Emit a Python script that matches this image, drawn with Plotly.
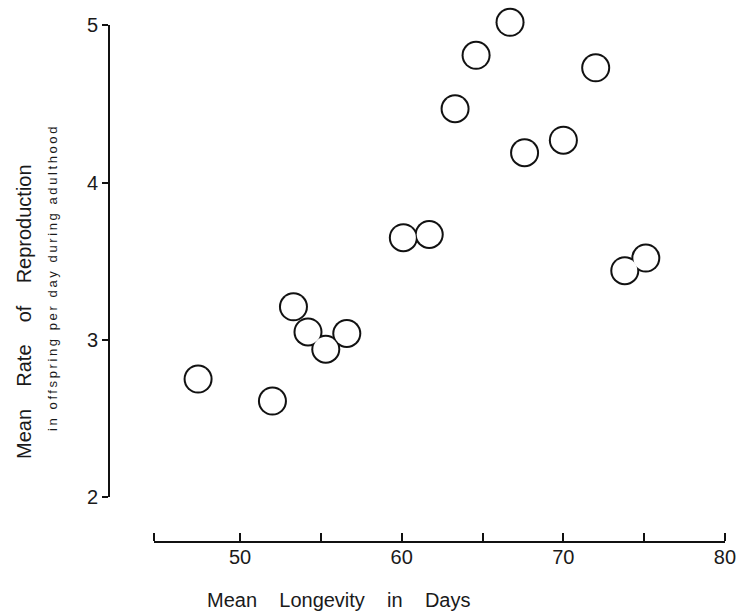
import plotly.graph_objects as go

# Data (mean longevity in days, mean rate of reproduction)
longevity = [47.4, 52.0, 53.3, 54.2, 55.3, 56.6, 60.1, 61.7, 63.3, 64.6, 66.7,
             67.6, 70.0, 72.0, 73.8, 75.1]
reproduction = [2.75, 2.61, 3.21, 3.05, 2.94, 3.04, 3.65, 3.67, 4.47, 4.81, 5.02,
                4.19, 4.27, 4.73, 3.44, 3.52]

x_range = [44.67, 80]
x_tickvals = [44.67, 50, 55, 60, 65, 70, 75, 80]
x_ticktext = ["", "50", "", "60", "", "70", "", "80"]
y_tickvals = [2, 3, 4, 5]
y_ticktext = ["2", "3", "4", "5"]

FONT = "Liberation Sans, Arial, Helvetica, sans-serif"
INK = "#111111"
NB = "\u00a0"

fig = go.Figure()
# outer black discs, then white discs on top -> merged open-circle outlines
fig.add_trace(go.Scatter(x=longevity, y=reproduction, mode="markers",
                         marker=dict(size=29, color=INK, line=dict(width=0)),
                         hoverinfo="skip", showlegend=False, cliponaxis=False))
fig.add_trace(go.Scatter(x=longevity, y=reproduction, mode="markers",
                         marker=dict(size=25, color="white", line=dict(width=0)),
                         showlegend=False, cliponaxis=False))
# transparent copy on the decorative axes so that plotly draws them
fig.add_trace(go.Scatter(x=longevity, y=reproduction, mode="markers",
                         xaxis="x2", yaxis="y2", marker=dict(opacity=0),
                         hoverinfo="skip", showlegend=False))

# plot area: paper from y=16px (top) to y=541px (x axis line)
y_lo, y_hi = 1.72, 5.06
d0 = (y_tickvals[0] - y_lo) / (y_hi - y_lo)
d1 = (y_tickvals[-1] - y_lo) / (y_hi - y_lo)

fig.update_layout(
    width=742, height=613,
    margin=dict(l=109, r=17, t=16, b=72, autoexpand=False),
    paper_bgcolor="white", plot_bgcolor="rgba(0,0,0,0)",
    font=dict(family=FONT, size=20, color="#1a1a1a"),
    xaxis=dict(range=x_range, domain=[0.073, 1], anchor="y", automargin=False,
               showline=True, linecolor=INK, linewidth=2,
               ticks="", tickvals=x_tickvals, ticktext=x_ticktext,
               ticklabelstandoff=-3,
               showgrid=False, zeroline=False, tickfont=dict(size=20)),
    # decorative overlay axis giving upward-pointing ticks on the x axis line
    xaxis2=dict(range=x_range, overlaying="x", anchor="free", position=0,
                side="top", showline=False, showticklabels=False, automargin=False,
                ticks="outside", ticklen=8, tickwidth=2, tickcolor=INK,
                tickvals=x_tickvals, showgrid=False, zeroline=False),
    yaxis=dict(range=[y_lo, y_hi], domain=[0, 1], visible=False, automargin=False),
    # visible y axis spanning exactly 2..5
    yaxis2=dict(range=[y_tickvals[0], y_tickvals[-1]], domain=[d0, d1],
                anchor="free", position=0, automargin=False,
                showline=True, linecolor=INK, linewidth=2,
                ticks="outside", ticklen=6, tickwidth=2, tickcolor=INK,
                tickvals=y_tickvals, ticktext=y_ticktext,
                showgrid=False, zeroline=False, tickfont=dict(size=20)),
    annotations=[
        dict(text=("Mean" + NB*4 + "Longevity" + NB*4 + "in" + NB*4 + "Days"),
             xref="paper", yref="paper", x=0.3718, y=-0.1124,
             xanchor="center", yanchor="middle", showarrow=False,
             font=dict(size=20)),
        dict(text=("Mean" + NB*4 + "Rate" + NB*4 + "of" + NB*4 + "Reproduction"),
             xref="paper", yref="paper", x=-0.138, y=0.4381, textangle=-90,
             xanchor="center", yanchor="middle", showarrow=False,
             font=dict(size=20)),
        dict(text='<span style="letter-spacing:2.6px">in offspring per day during adulthood</span>',
             xref="paper", yref="paper", x=-0.0909, y=0.501, textangle=-90,
             xanchor="center", yanchor="middle", showarrow=False,
             font=dict(size=13)),
    ],
)

fig.write_html("out.html")
